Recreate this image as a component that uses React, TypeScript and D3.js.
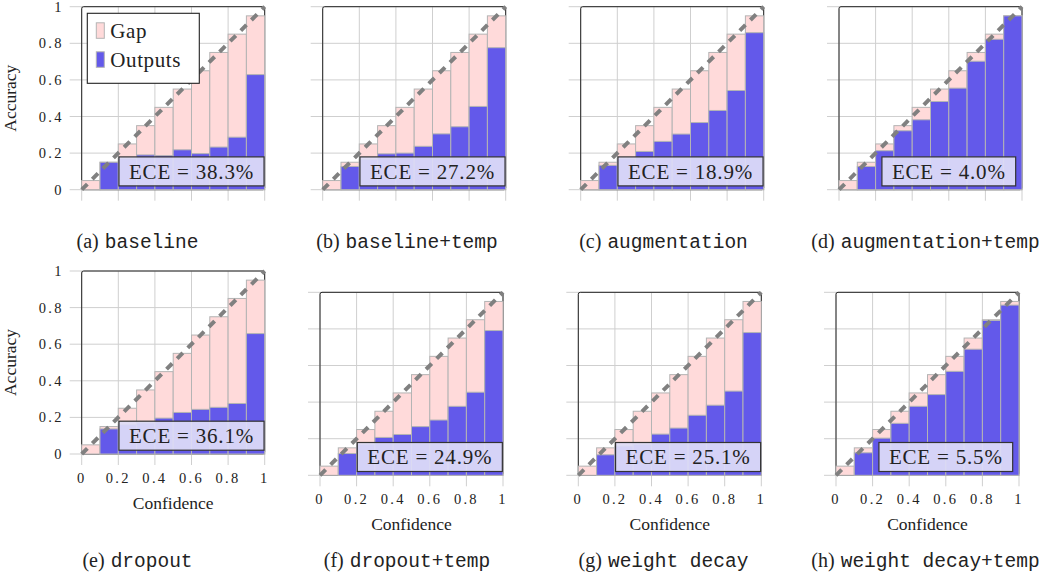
import React, { useEffect, useRef } from 'react';
import * as d3 from 'd3';

// bin centres (confidence) and the pink "gap" bar heights
const binCenters = [0.05, 0.15, 0.25, 0.35, 0.45, 0.55, 0.65, 0.75, 0.85, 0.95];
const gapHeights = [0.05, 0.15, 0.25, 0.35, 0.45, 0.55, 0.65, 0.75, 0.85, 0.95];

// accuracy per bin for each model
const accBaseline = [0, 0.15, 0.17, 0.19, 0.186, 0.218, 0.197, 0.233, 0.287, 0.629];
const accBaselineTemp = [0, 0.127, 0.165, 0.196, 0.2, 0.237, 0.305, 0.344, 0.455, 0.776];
const accAugmentation = [0, 0.133, 0.17, 0.209, 0.264, 0.304, 0.367, 0.433, 0.542, 0.858];
const accAugmentationTemp = [0, 0.127, 0.213, 0.322, 0.382, 0.482, 0.555, 0.702, 0.822, 0.95];
const accDropout = [0, 0.137, 0.16, 0.17, 0.196, 0.227, 0.244, 0.255, 0.276, 0.658];
const accDropoutTemp = [0, 0.119, 0.17, 0.207, 0.223, 0.266, 0.302, 0.377, 0.454, 0.791];
const accWeightDecay = [0, 0.112, 0.16, 0.17, 0.225, 0.258, 0.328, 0.383, 0.46, 0.78];
const accWeightDecayTemp = [0, 0.123, 0.203, 0.284, 0.377, 0.441, 0.568, 0.689, 0.846, 0.93];

const eceLabels = ['38.3%', '27.2%', '18.9%', '4.0%', '36.1%', '24.9%', '25.1%', '5.5%'];
const captionLetters = ['(a)', '(b)', '(c)', '(d)', '(e)', '(f)', '(g)', '(h)'];
const captionNames = ['baseline', 'baseline+temp', 'augmentation', 'augmentation+temp',
  'dropout', 'dropout+temp', 'weight decay', 'weight decay+temp'];
const tickValues = [0, 0.2, 0.4, 0.6, 0.8, 1];
const tickLabels = ['0', '0.2', '0.4', '0.6', '0.8', '1'];
const legendLabels = ['Gap', 'Outputs'];

const accuracies = [accBaseline, accBaselineTemp, accAugmentation, accAugmentationTemp,
  accDropout, accDropoutTemp, accWeightDecay, accWeightDecayTemp];

// layout (pixels)
const panelLeft = [81.7, 322.7, 580.7, 839, 81.7, 320, 578.3, 836];
const panelTop = [6.7, 6.7, 6.7, 6.7, 271, 292.3, 292.3, 292.3];
const captionX = [137.5, 407, 663.5, 925.5];
const captionY = [248, 567];
const SIZE = 183;

const SERIF = '"Liberation Serif", "Times New Roman", serif';
const MONO = '"Liberation Mono", "DejaVu Sans Mono", monospace';
const PINK = '#FFDADA';
const BLUE = '#6359EA';
const BAR_STROKE = '#B4B4B4';
const GRID = '#CFCFCF';
const INK = '#222';

const App = () => {
  const svgRef = useRef<SVGSVGElement>(null);

  useEffect(() => {
    const svg = d3.select(svgRef.current);
    svg.selectAll('*').remove();

    accuracies.forEach((acc, p) => {
      const g = svg.append('g')
        .attr('transform', `translate(${panelLeft[p]},${panelTop[p]})`);
      const x = d3.scaleLinear().domain([0, 1]).range([0, SIZE]);
      const y = d3.scaleLinear().domain([0, 1]).range([SIZE, 0]);
      const isLeft = p % 4 === 0;
      const isBottom = p >= 4;

      // grid + ticks
      g.selectAll('.hgrid').data(tickValues).enter().append('line')
        .attr('x1', -12).attr('x2', SIZE)
        .attr('y1', d => y(d)).attr('y2', d => y(d))
        .attr('stroke', GRID).attr('stroke-width', 1);
      g.selectAll('.vgrid').data(tickValues).enter().append('line')
        .attr('x1', d => x(d)).attr('x2', d => x(d))
        .attr('y1', 0).attr('y2', SIZE + 11)
        .attr('stroke', GRID).attr('stroke-width', 1);

      // frame
      g.append('rect')
        .attr('x', 0).attr('y', 0).attr('width', SIZE).attr('height', SIZE)
        .attr('rx', 2).attr('fill', 'none')
        .attr('stroke', INK).attr('stroke-width', 1);

      const bw = x(0.1) - x(0);
      // gap bars
      g.selectAll('.gap').data(binCenters).enter().append('rect')
        .attr('x', d => x(d) - bw / 2).attr('width', bw)
        .attr('y', (d, i) => y(gapHeights[i]))
        .attr('height', (d, i) => SIZE - y(gapHeights[i]))
        .attr('fill', PINK).attr('stroke', BAR_STROKE).attr('stroke-width', 1);
      // output bars
      g.selectAll('.out').data(binCenters.filter((d, i) => acc[i] > 0)).enter().append('rect')
        .attr('x', d => x(d) - bw / 2).attr('width', bw)
        .attr('y', d => y(acc[binCenters.indexOf(d)]))
        .attr('height', d => SIZE - y(acc[binCenters.indexOf(d)]))
        .attr('fill', BLUE).attr('stroke', BAR_STROKE).attr('stroke-width', 1);

      // perfect calibration diagonal
      g.append('line')
        .attr('x1', x(0)).attr('y1', y(0)).attr('x2', x(1)).attr('y2', y(1))
        .attr('stroke', '#808080').attr('stroke-width', 4)
        .attr('stroke-dasharray', '8 7');

      // ECE box
      const box = g.append('g');
      const rect = box.append('rect');
      const txt = box.append('text')
        .attr('x', x(0.6)).attr('y', y(0.1))
        .attr('dy', '0.35em')
        .attr('text-anchor', 'middle')
        .attr('font-family', SERIF).attr('font-size', 21)
        .attr('letter-spacing', 0.8)
        .attr('fill', INK)
        .text(`ECE = ${eceLabels[p]}`);
      const tw = (txt.node() as SVGTextElement).getComputedTextLength();
      rect.attr('x', x(0.6) - tw / 2 - 10).attr('width', tw + 20)
        .attr('y', y(0.1) - 14.5).attr('height', 29)
        .attr('fill', '#DEDDF7').attr('fill-opacity', 0.92)
        .attr('stroke', '#333').attr('stroke-width', 1.2);

      // y tick labels
      if (isLeft) {
        g.selectAll('.ylab').data(tickValues).enter().append('text')
          .attr('x', -18).attr('y', d => y(d)).attr('dy', '0.35em')
          .attr('text-anchor', 'end')
          .attr('font-family', SERIF).attr('font-size', 14.5)
          .attr('letter-spacing', 2.3)
          .attr('fill', INK)
          .text((d, i) => tickLabels[i]);
        g.append('text')
          .attr('transform', `translate(${-66},${SIZE / 2}) rotate(-90)`)
          .attr('text-anchor', 'middle')
          .attr('font-family', SERIF).attr('font-size', 17.5)
          .attr('fill', INK)
          .text('Accuracy');
      }
      // x tick labels
      if (isBottom) {
        g.selectAll('.xlab').data(tickValues).enter().append('text')
          .attr('x', d => x(d)).attr('y', SIZE + 29)
          .attr('text-anchor', 'middle')
          .attr('font-family', SERIF).attr('font-size', 14.5)
          .attr('letter-spacing', 2.3)
          .attr('fill', INK)
          .text((d, i) => tickLabels[i]);
        g.append('text')
          .attr('x', SIZE / 2).attr('y', SIZE + 55)
          .attr('text-anchor', 'middle')
          .attr('font-family', SERIF).attr('font-size', 17.5)
          .attr('fill', INK)
          .text('Confidence');
      }

      // legend in first panel
      if (p === 0) {
        const lg = g.append('g').attr('transform', 'translate(5.6,6.6)');
        lg.append('rect').attr('width', 112).attr('height', 70)
          .attr('fill', '#fff').attr('stroke', INK).attr('stroke-width', 1.1);
        [PINK, BLUE].forEach((c, i) => {
          lg.append('rect')
            .attr('x', 9).attr('y', 9.5 + i * 29).attr('width', 8).attr('height', 15.5)
            .attr('fill', c).attr('stroke', BAR_STROKE).attr('stroke-width', 1);
          lg.append('text')
            .attr('x', 23).attr('y', 25 + i * 29)
            .attr('font-family', SERIF).attr('font-size', 21)
            .attr('letter-spacing', 0.6)
            .attr('fill', INK)
            .text(legendLabels[i]);
        });
      }

      // caption
      const cap = svg.append('text')
        .attr('x', captionX[p % 4]).attr('y', captionY[isBottom ? 1 : 0])
        .attr('text-anchor', 'middle')
        .attr('fill', INK);
      cap.append('tspan')
        .attr('font-family', SERIF).attr('font-size', 20)
        .text(captionLetters[p]);
      cap.append('tspan')
        .attr('dx', 6)
        .attr('font-family', MONO).attr('font-size', 19.5)
        .text(captionNames[p]);
    });
  }, []);

  return (
    <svg ref={svgRef} width={1053} height={581}
      style={{ position: 'absolute', left: 0, top: 0, background: '#fff', display: 'block' }} />
  );
};

export default App;
